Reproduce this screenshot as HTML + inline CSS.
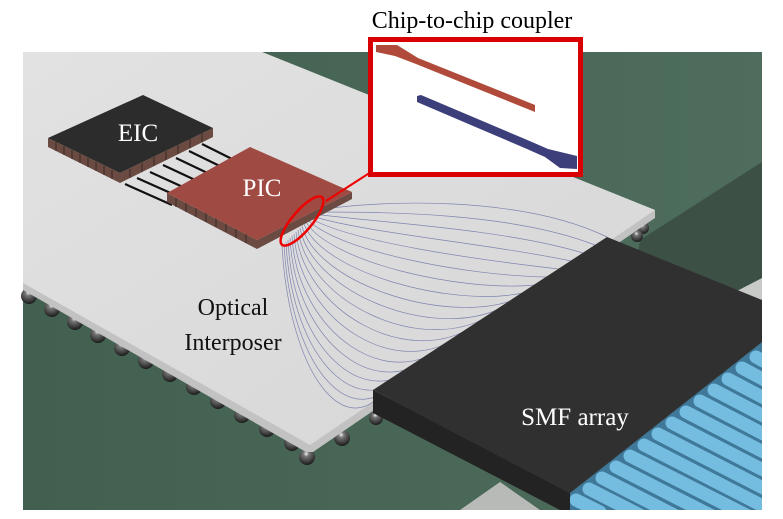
<!DOCTYPE html>
<html><head><meta charset="utf-8"><style>
html,body{margin:0;padding:0;background:#fff;}
svg{display:block;}
text{font-family:"Liberation Serif",serif;}
</style></head><body>
<svg width="783" height="519" viewBox="0 0 783 519" xmlns="http://www.w3.org/2000/svg">
<defs>
<linearGradient id="g1" x1="0" y1="0" x2="1" y2="0">
<stop offset="0" stop-color="#42604f"/><stop offset="1" stop-color="#4e6d5d"/>
</linearGradient>
<linearGradient id="ip" x1="0" y1="0" x2="1" y2="1">
<stop offset="0" stop-color="#e2e2e2"/><stop offset="1" stop-color="#d6d6d6"/>
</linearGradient>
<radialGradient id="ball" cx="0.45" cy="0.3" r="0.7">
<stop offset="0" stop-color="#f4f4f4"/><stop offset="0.25" stop-color="#777"/><stop offset="1" stop-color="#1a1a1a"/>
</radialGradient>
</defs>
<rect x="23" y="52" width="739" height="458" fill="url(#g1)"/>
<polygon points="640,240 762,162 762,510 600,510" fill="#3d5045"/>
<polygon points="460,510 500,482 540,510" fill="#b8bab8"/>
<polygon points="735,292 762,278 762,300" fill="#c9cbc9"/>
<g fill="url(#ball)">
<circle cx="29" cy="296" r="8"/><circle cx="52" cy="309" r="8"/><circle cx="75" cy="322" r="8"/>
<circle cx="98" cy="335" r="8"/><circle cx="122" cy="348" r="8"/><circle cx="146" cy="361" r="8"/>
<circle cx="170" cy="374" r="8"/><circle cx="194" cy="387" r="8"/><circle cx="218" cy="401" r="8"/>
<circle cx="242" cy="415" r="8"/><circle cx="267" cy="429" r="8"/><circle cx="292" cy="443" r="8"/>
<circle cx="307" cy="457" r="8"/><circle cx="342" cy="438" r="8"/><circle cx="376" cy="418" r="7"/>
<circle cx="643" cy="228" r="6"/><circle cx="637" cy="236" r="6"/>
</g>
<polygon points="23,52 262,52 655,210 655,218 313,452 306,452 23,290" fill="#c2c2c2"/>
<polygon points="23,52 262,52 655,210 310,445 23,283" fill="url(#ip)"/>
<g fill="none" stroke="#6f75a8" stroke-width="0.7" opacity="0.85">
<path d="M318,210 C380,200 520,195 607,237"/>
<path d="M316,212 C380,212 510,212 595,245"/>
<path d="M314,214 C370,222 500,228 583,253"/>
<path d="M312,216 C360,232 490,244 571,261"/>
<path d="M310,218 C350,242 480,260 559,269"/>
<path d="M308,220 C340,252 470,276 547,277"/>
<path d="M306,222 C330,262 460,292 535,285"/>
<path d="M304,224 C322,272 450,308 523,293"/>
<path d="M302,226 C316,282 440,324 511,301"/>
<path d="M300,228 C312,292 430,340 499,309"/>
<path d="M298,230 C308,302 420,355 487,317"/>
<path d="M296,232 C304,312 410,370 475,325"/>
<path d="M294,234 C300,322 400,384 463,333"/>
<path d="M292,236 C297,332 390,398 451,341"/>
<path d="M290,238 C295,342 380,410 439,349"/>
<path d="M288,240 C293,352 370,420 427,357"/>
<path d="M286,242 C292,362 362,430 415,365"/>
<path d="M284,244 C291,372 355,440 403,373"/>
<path d="M282,246 C290,380 350,450 391,381"/>
</g>
<polygon points="48,138 120,173 213,128 213,137 120,183 48,147" fill="#6b4a42"/>
<g stroke="#3a2a26" stroke-width="1">
<line x1="56" y1="142" x2="56" y2="151"/><line x1="64" y1="146" x2="64" y2="155"/><line x1="72" y1="150" x2="72" y2="159"/>
<line x1="80" y1="154" x2="80" y2="163"/><line x1="88" y1="158" x2="88" y2="167"/><line x1="96" y1="162" x2="96" y2="171"/>
<line x1="104" y1="166" x2="104" y2="175"/><line x1="112" y1="170" x2="112" y2="179"/>
<line x1="130" y1="169" x2="130" y2="178"/><line x1="142" y1="163" x2="142" y2="172"/><line x1="154" y1="157" x2="154" y2="166"/>
<line x1="166" y1="151" x2="166" y2="160"/><line x1="178" y1="145" x2="178" y2="154"/><line x1="190" y1="139" x2="190" y2="148"/>
<line x1="202" y1="133" x2="202" y2="142"/>
</g>
<g stroke="#111" stroke-width="2.2">
<line x1="125" y1="184" x2="172" y2="205"/><line x1="137" y1="178" x2="184" y2="199"/>
<line x1="150" y1="172" x2="196" y2="193"/><line x1="163" y1="165" x2="208" y2="186"/>
<line x1="176" y1="158" x2="220" y2="179"/><line x1="189" y1="151" x2="232" y2="172"/>
<line x1="202" y1="144" x2="238" y2="162"/>
</g>
<polygon points="143,95 213,128 120,173 48,138" fill="#2c2c2c"/>
<text x="138" y="141" font-size="25" fill="#fff" text-anchor="middle">EIC</text>
<polygon points="167,193 257,240 352,192 352,199 257,249 167,202" fill="#6b4a42"/>
<g stroke="#3a2a26" stroke-width="1">
<line x1="176" y1="198" x2="176" y2="207"/><line x1="186" y1="203" x2="186" y2="212"/><line x1="196" y1="208" x2="196" y2="217"/>
<line x1="206" y1="213" x2="206" y2="222"/><line x1="216" y1="218" x2="216" y2="227"/><line x1="226" y1="223" x2="226" y2="232"/>
<line x1="236" y1="229" x2="236" y2="238"/><line x1="246" y1="234" x2="246" y2="243"/>
</g>
<polygon points="250,147 352,192 257,240 167,193" fill="#9f4a42"/>
<text x="262" y="196" font-size="25" fill="#fff" text-anchor="middle">PIC</text>
<ellipse cx="302" cy="221" rx="31" ry="10" transform="rotate(-50 302 221)" fill="none" stroke="#e00" stroke-width="2.5"/>
<line x1="326" y1="201" x2="371" y2="172" stroke="#e00" stroke-width="2"/>
<polygon points="570,493 762,342 762,510 560,510" fill="#3f7898"/>
<g stroke="#74bde0" stroke-width="13" stroke-linecap="round">
<line x1="576" y1="500" x2="600" y2="512"/>
<line x1="589" y1="489" x2="640" y2="515"/>
<line x1="602" y1="478" x2="680" y2="518"/>
<line x1="616" y1="467" x2="720" y2="520"/>
<line x1="630" y1="456" x2="760" y2="522"/>
<line x1="644" y1="445" x2="800" y2="525"/>
<line x1="658" y1="434" x2="800" y2="507"/>
<line x1="672" y1="423" x2="800" y2="489"/>
<line x1="686" y1="412" x2="800" y2="471"/>
<line x1="700" y1="401" x2="800" y2="453"/>
<line x1="714" y1="390" x2="800" y2="435"/>
<line x1="728" y1="379" x2="800" y2="417"/>
<line x1="742" y1="368" x2="800" y2="399"/>
<line x1="756" y1="357" x2="800" y2="381"/>
</g>
<rect x="762" y="0" width="21" height="519" fill="#fff"/>
<rect x="0" y="510" width="783" height="9" fill="#fff"/>
<polygon points="373,390 570,493 570,510 560,510 373,413" fill="#232323"/>
<polygon points="373,390 607,237 762,300 762,342 570,493" fill="#303030"/>
<text x="575" y="425" font-size="25" fill="#fff" text-anchor="middle">SMF array</text>
<rect x="370.5" y="39.5" width="210" height="135" fill="#fff" stroke="#d80000" stroke-width="5"/>
<polygon points="376,45 397,45 418,58 535,105 535,112 416,64 395,56 376,52" fill="#b04a3a"/>
<polygon points="417,96 421,95 532,142 548,149 577,156 577,169 560,168 545,157 527,149 417,102" fill="#3c3f7a"/>
<text x="472" y="28" font-size="24" fill="#000" text-anchor="middle">Chip-to-chip coupler</text>
<text x="233" y="315" font-size="24" fill="#111" text-anchor="middle">Optical</text>
<text x="233" y="350" font-size="24" fill="#111" text-anchor="middle">Interposer</text>
</svg>
</body></html>
